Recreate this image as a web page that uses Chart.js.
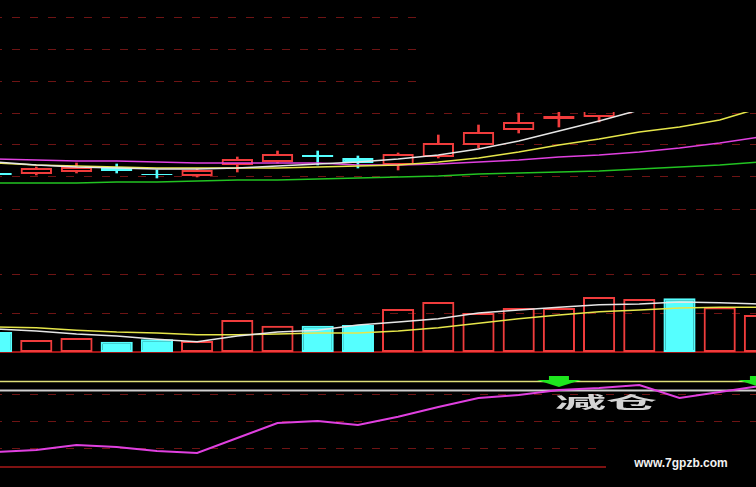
<!DOCTYPE html>
<html lang="zh-CN">
<head>
  <meta charset="UTF-8" />
  <title>K线 成交量 指标</title>
  <script src="https://cdn.jsdelivr.net/npm/chart.js"></script>
  <style>
    html, body { margin: 0; padding: 0; background: #000; }
    #stage { position: relative; width: 756px; height: 487px; overflow: hidden; background: #000; }
    .pane { position: absolute; left: -24px; width: 804px; }
    #pricePane { top: 0; height: 224px; }
    #volPane { top: 224px; height: 136px; }
    #indPane { top: 360px; height: 127px; }
    .mask { position: absolute; background: #000; }
    #topMask { left: 425px; top: 0; width: 331px; height: 112px; }
    #logo {
      left: 606px; top: 446px; width: 150px; height: 41px;
      color: #f2f2f2; font: bold 12px "Liberation Sans", Arial, sans-serif;
      line-height: 34px; text-align: center;
    }
  </style>
</head>
<body>
  <div id="stage">
    <div class="pane" id="pricePane"><canvas id="priceChart"></canvas></div>
    <div class="pane" id="volPane"><canvas id="volChart"></canvas></div>
    <div class="pane" id="indPane"><canvas id="indChart"></canvas></div>
    <div class="mask" id="topMask"></div>
    <div class="mask" id="logo">www.7gpzb.com</div>
  </div>

  <script>
    // days shown on screen
    const days = ['01', '02', '03', '04', '05', '06', '07', '08', '09', '10',
                  '11', '12', '13', '14', '15', '16', '17', '18', '19', '20'];

    // candles
    const openP  = [10.60, 10.59, 10.61, 10.66, 10.59, 10.57, 10.68, 10.71, 10.78, 10.75,
                    10.68, 10.76, 10.88, 11.03, 11.14, 11.16, 11.27, 11.43, 11.36, 11.51];
    const closeP = [10.58, 10.65, 10.66, 10.62, 10.58, 10.63, 10.74, 10.79, 10.76, 10.70,
                    10.79, 10.90, 11.01, 11.11, 11.17, 11.29, 11.41, 11.36, 11.53, 11.63];
    const highP  = [10.64, 10.66, 10.70, 10.69, 10.63, 10.64, 10.76, 10.82, 10.82, 10.77,
                    10.80, 10.98, 11.08, 11.20, 11.27, 11.37, 11.49, 11.51, 11.59, 11.69];
    const lowP   = [10.52, 10.58, 10.60, 10.60, 10.55, 10.56, 10.61, 10.70, 10.68, 10.65,
                    10.63, 10.75, 10.85, 11.00, 11.06, 11.11, 11.25, 11.33, 11.31, 11.45];

    // price moving averages
    const ma5  = [10.71, 10.68, 10.66, 10.65, 10.64, 10.64, 10.65, 10.67, 10.69, 10.71,
                  10.74, 10.78, 10.84, 10.92, 11.02, 11.12, 11.23, 11.35, 11.43, 11.49];
    const ma10 = [10.70, 10.68, 10.67, 10.66, 10.65, 10.65, 10.65, 10.65, 10.66, 10.67,
                  10.68, 10.71, 10.75, 10.81, 10.88, 10.94, 11.01, 11.06, 11.13, 11.25];
    const ma30 = [10.74, 10.73, 10.72, 10.72, 10.71, 10.70, 10.70, 10.70, 10.70, 10.68,
                  10.68, 10.69, 10.71, 10.73, 10.76, 10.78, 10.81, 10.85, 10.90, 10.96];
    const ma60 = [10.50, 10.50, 10.50, 10.51, 10.51, 10.52, 10.53, 10.53, 10.54, 10.55,
                  10.56, 10.57, 10.59, 10.60, 10.61, 10.62, 10.64, 10.66, 10.68, 10.71];
    const priceTicks = [10.24, 10.56, 10.88, 11.20, 11.52, 11.84, 12.16];

    // volume
    const volume  = [5100, 3100, 3600, 2600, 3300, 2800, 8200, 6700, 6700, 6900,
                     11000, 12800, 10000, 11300, 11300, 14100, 13600, 13800, 11500, 9500];
    const volMa5  = [5900, 5400, 4600, 4100, 3300, 2600, 4100, 5100, 5600, 6900,
                     7700, 8500, 10000, 10800, 11500, 12100, 12300, 12800, 12600, 12300];
    const volMa10 = [6400, 6200, 5600, 5100, 4900, 4400, 4400, 4600, 4900, 4900,
                     5400, 6200, 7400, 8500, 9500, 10300, 10800, 11300, 11500, 11500];
    const volTicks = [10000, 20000];

    // indicator
    const signal = [16.7, 18.9, 24.4, 22.2, 17.8, 15.6, 32.2, 48.9, 51.1, 46.7,
                    55.9, 66.7, 76.7, 80.0, 85.6, 87.8, 91.1, 76.7, 83.3, 90.0];
    const levelHigh = 95;
    const levelLow = 85;
    const indTicks = [20, 50, 80];
    const sellDays = [14, 19];
    const sellText = '减仓';

    const RED = '#f03c3c';
    const CYAN = '#55ffff';
    const GRID = '#6e1414';

    const up = days.map((_, i) => closeP[i] >= openP[i]);
    const candleColor = up.map(u => u ? RED : CYAN);
    const bodyFill = up.map(u => u ? 'rgba(0,0,0,0)' : CYAN);

    const base = {
      responsive: true,
      maintainAspectRatio: false,
      animation: false,
      devicePixelRatio: 1,
      events: [],
      plugins: { legend: { display: false }, tooltip: { enabled: false } }
    };

    function xAxis(borderColor) {
      return {
        type: 'category',
        offset: true,
        display: !!borderColor,
        grid: { display: false, drawTicks: false },
        ticks: { display: false },
        border: borderColor ? { display: true, color: borderColor, width: 2 } : { display: false }
      };
    }

    function yAxis(min, max, ticks) {
      return {
        min: min,
        max: max,
        display: true,
        ticks: { display: false },
        grid: { color: GRID, lineWidth: 1, drawTicks: false, borderDash: [8, 10] },
        border: { display: false, dash: [8, 10] },
        afterBuildTicks: s => { s.ticks = ticks.map(v => ({ value: v })); }
      };
    }

    function pad(top, bottom) {
      return { autoPadding: false, padding: { top: top, bottom: bottom, left: 0, right: 0 } };
    }

    function line(data, color, width) {
      return {
        type: 'line', data: data, borderColor: color, borderWidth: width || 1.5,
        pointRadius: 0, tension: 0, order: 1, clip: false
      };
    }

    // Price chart
    new Chart(document.getElementById('priceChart'), {
      type: 'bar',
      data: {
        labels: days,
        datasets: [
          line(ma5, '#e6e6e6'),
          line(ma10, '#e6e64a'),
          line(ma30, '#e040e0'),
          line(ma60, '#22c322'),
          {
            data: days.map((_, i) => [Math.max(openP[i], closeP[i]), highP[i]]),
            backgroundColor: candleColor, barThickness: 2, grouped: false, order: 2
          },
          {
            data: days.map((_, i) => [lowP[i], Math.min(openP[i], closeP[i])]),
            backgroundColor: candleColor, barThickness: 2, grouped: false, order: 2
          },
          {
            data: days.map((_, i) => [openP[i], closeP[i]]),
            backgroundColor: bodyFill, borderColor: candleColor, borderWidth: 2,
            borderSkipped: false, barPercentage: 0.78, categoryPercentage: 1,
            grouped: false, order: 2
          }
        ]
      },
      options: {
        ...base,
        layout: pad(17, 15),
        scales: { x: xAxis(null), y: yAxis(10.24, 12.16, priceTicks) }
      }
    });

    // Volume chart
    new Chart(document.getElementById('volChart'), {
      type: 'bar',
      data: {
        labels: days,
        datasets: [
          line(volMa5, '#e6e6e6'),
          line(volMa10, '#e6e64a'),
          {
            data: volume,
            backgroundColor: bodyFill, borderColor: candleColor, borderWidth: 2,
            borderSkipped: false, barPercentage: 0.8, categoryPercentage: 1, order: 2
          }
        ]
      },
      options: {
        ...base,
        layout: pad(50, 8),
        scales: { x: xAxis('#a01616'), y: yAxis(0, 20000, volTicks) }
      }
    });

    // green sell arrow
    const arrow = document.createElement('canvas');
    arrow.width = 44;
    arrow.height = 11;
    const actx = arrow.getContext('2d');
    actx.fillStyle = '#1ee61e';
    actx.fillRect(12, 0, 20, 4);
    actx.beginPath();
    actx.moveTo(0, 4);
    actx.lineTo(44, 4);
    actx.lineTo(22, 11);
    actx.closePath();
    actx.fill();

    const sellLabel = {
      id: 'sellLabel',
      afterDatasetsDraw(chart) {
        const { ctx, scales: { x, y } } = chart;
        const px = x.getPixelForValue(sellDays[0]) - 4;
        const py = y.getPixelForValue(levelHigh) + 20;
        ctx.save();
        ctx.translate(px, py);
        ctx.scale(3.2, 1);
        ctx.fillStyle = '#d4d4d4';
        ctx.font = 'bold 16px "Noto Sans CJK SC"';
        ctx.textBaseline = 'middle';
        ctx.fillText(sellText, 0, 0);
        ctx.restore();
      }
    };

    // Indicator chart
    new Chart(document.getElementById('indChart'), {
      type: 'line',
      data: {
        labels: days,
        datasets: [
          {
            data: days.map((_, i) => sellDays.includes(i) ? levelHigh : null),
            showLine: false, pointStyle: arrow, pointRadius: 6, order: 0, clip: false
          },
          line(signal, '#e040e0', 2),
          line(days.map(() => levelHigh), '#dede78', 1.5),
          line(days.map(() => levelLow), '#d0d0d0', 2)
        ]
      },
      options: {
        ...base,
        layout: pad(7, 20),
        scales: { x: xAxis('#7e1212'), y: yAxis(0, 111.1, indTicks) }
      },
      plugins: [sellLabel]
    });
  </script>
</body>
</html>
